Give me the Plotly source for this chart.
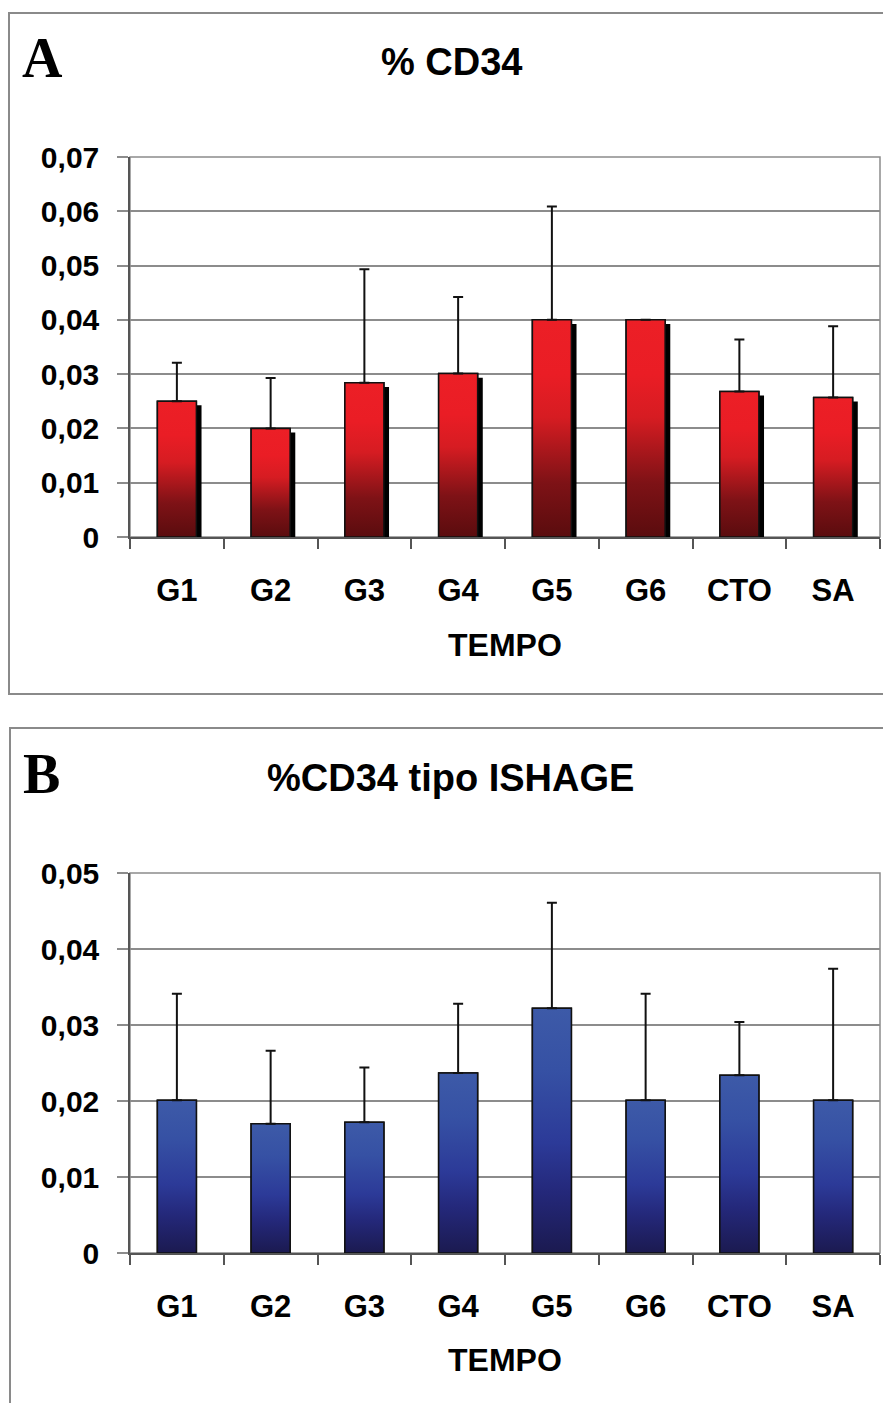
import plotly.graph_objects as go

categories = ["G1", "G2", "G3", "G4", "G5", "G6", "CTO", "SA"]

# Panel A: %CD34
cd34_mean = [0.0250, 0.0200, 0.0284, 0.0301, 0.0400, 0.0400, 0.0268, 0.0257]
cd34_err = [0.0071, 0.0093, 0.0209, 0.0141, 0.0209, 0.0000, 0.0096, 0.0131]

# Panel B: %CD34 tipo ISHAGE
ishage_mean = [0.0201, 0.0170, 0.0172, 0.0237, 0.0322, 0.0201, 0.0234, 0.0201]
ishage_err = [0.0140, 0.0096, 0.0072, 0.0091, 0.0139, 0.0140, 0.0070, 0.0173]

title_a = "% CD34"
title_b = "%CD34 tipo ISHAGE"
x_title = "TEMPO"

W, H = 883, 1403
SANS = "Liberation Sans, Arial, sans-serif"
SERIF = "Liberation Serif, Times New Roman, serif"

RED_SCALE = [[0.0, "#5a0c0e"], [0.25, "#7e1216"], [0.55, "#d61c22"], [0.75, "#ea1d25"], [1.0, "#ec1f26"]]
BLUE_SCALE = [[0.0, "#1b1a50"], [0.25, "#24287a"], [0.45, "#2c3a98"], [0.75, "#3651a4"], [1.0, "#3d5aa8"]]

HALF_W = 0.208
idx = list(range(len(categories)))

fig = go.Figure()


def px_x(v):
    return v / W


def px_y(v):
    return 1 - v / H


panels = [
    dict(mean=cd34_mean, err=cd34_err, scale=RED_SCALE, shadow=True, xa="x", ya="y",
         ydom=[px_y(537), px_y(157)], yrange=[0, 0.07], mid="#c01a20"),
    dict(mean=ishage_mean, err=ishage_err, scale=BLUE_SCALE, shadow=False, xa="x2", ya="y2",
         ydom=[px_y(1253), px_y(873)], yrange=[0, 0.05], mid="#2c3a98"),
]

for p in panels:
    if p["shadow"]:
        fig.add_trace(go.Bar(
            x=idx, y=p["mean"], base=-0.00075, width=2 * HALF_W, offset=-HALF_W + 0.055,
            marker=dict(color="black", line=dict(width=0)), xaxis=p["xa"], yaxis=p["ya"],
            hoverinfo="skip", showlegend=False))
    fig.add_trace(go.Bar(
        x=idx, y=p["mean"], width=2 * HALF_W,
        marker=dict(color=p["mid"], line=dict(color="black", width=1.5)),
        xaxis=p["xa"], yaxis=p["ya"], showlegend=False))
    for i, v in zip(idx, p["mean"]):
        fig.add_trace(go.Scatter(
            x=[i - HALF_W, i - HALF_W, i + HALF_W, i + HALF_W, i - HALF_W],
            y=[0, v, v, 0, 0],
            mode="lines", fill="toself",
            fillgradient=dict(type="vertical", colorscale=p["scale"], start=0, stop=v),
            line=dict(color="#111", width=1.5),
            xaxis=p["xa"], yaxis=p["ya"], hoverinfo="skip", showlegend=False))
    fig.add_trace(go.Scatter(
        x=idx, y=p["mean"], mode="markers", marker=dict(size=1, opacity=0),
        error_y=dict(type="data", symmetric=False, array=p["err"], arrayminus=[0] * len(idx),
                     color="#111", thickness=2, width=5),
        xaxis=p["xa"], yaxis=p["ya"], hoverinfo="skip", showlegend=False))

boundaries = [i - 0.5 for i in range(len(categories) + 1)]

common_x = dict(
    domain=[px_x(130), px_x(880)], range=[-0.5, len(categories) - 0.5],
    tickmode="array", tickvals=idx, ticktext=categories,
    ticks="outside", ticklen=25, tickcolor="rgba(0,0,0,0)",
    tickfont=dict(family=SANS, size=31, color="black", weight="bold"),
    showline=True, linecolor="#555", linewidth=1.5, showgrid=False, zeroline=False,
    minor=dict(tickmode="array", tickvals=boundaries, ticks="outside", ticklen=10,
               tickcolor="#555", tickwidth=1.5, showgrid=False),
    fixedrange=True, automargin=False,
)
common_y = dict(
    dtick=0.01, tick0=0, tickformat=".2~f",
    ticks="outside", ticklen=11, tickcolor="#8c8c8c", tickwidth=1.5,
    ticklabelstandoff=12,
    tickfont=dict(family=SANS, size=30, color="black", weight="bold"),
    showline=True, linecolor="#555", linewidth=1.5,
    showgrid=True, gridcolor="#8c8c8c", gridwidth=1.5, zeroline=False,
    domain=[0, 1], fixedrange=True, automargin=False,
)

fig.update_layout(
    width=W, height=H, margin=dict(l=0, r=0, t=0, b=0, autoexpand=False),
    paper_bgcolor="white", plot_bgcolor="white",
    barmode="overlay", showlegend=False, separators=", ",
    xaxis=dict(common_x, anchor="y"),
    yaxis=dict(common_y, domain=panels[0]["ydom"], range=panels[0]["yrange"], anchor="x"),
    xaxis2=dict(common_x, anchor="y2"),
    yaxis2=dict(common_y, domain=panels[1]["ydom"], range=panels[1]["yrange"], anchor="x2"),
)

shapes = []
# outer frames
shapes.append(dict(type="rect", xref="paper", yref="paper", x0=px_x(9), x1=px_x(890),
                   y0=px_y(694), y1=px_y(13), line=dict(color="#8a8a8a", width=2), layer="below"))
shapes.append(dict(type="rect", xref="paper", yref="paper", x0=px_x(10), x1=px_x(890),
                   y0=px_y(1420), y1=px_y(728), line=dict(color="#8a8a8a", width=2), layer="below"))
# plot-area borders
for xa, ya in (("x", "y"), ("x2", "y2")):
    shapes.append(dict(type="rect", xref=f"{xa} domain", yref=f"{ya} domain", x0=0, x1=1, y0=0, y1=1,
                       line=dict(color="#8c8c8c", width=1.5), layer="below"))
fig.update_layout(shapes=shapes)


def label(text, x, y, family, size):
    return dict(text=text, x=px_x(x), y=px_y(y), xref="paper", yref="paper", showarrow=False,
                xanchor="center", yanchor="middle",
                font=dict(family=family, size=size, color="black", weight="bold"))


ann = [
    label("A", 42, 58, SERIF, 56),
    label("B", 41, 774, SERIF, 56),
    label(title_a, 452, 62, SANS, 38),
    label(title_b, 450, 778, SANS, 38),
    label(x_title, 505, 645, SANS, 32),
    label(x_title, 505, 1360, SANS, 32),
]
fig.update_layout(annotations=ann)

fig.write_html("out.html")
